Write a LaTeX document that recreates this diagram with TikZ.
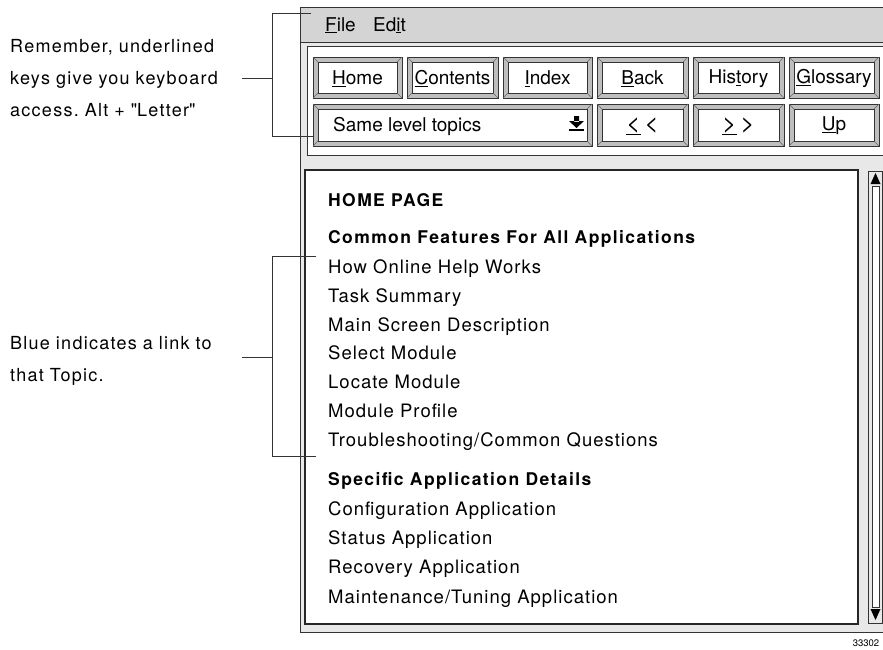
\documentclass[tikz,border=0pt]{standalone}
\usepackage{fontspec}
\setmainfont{TeX Gyre Heros}
\usetikzlibrary{positioning}
\frenchspacing

\definecolor{menugray}{RGB}{212,212,212}
\definecolor{wingray}{RGB}{232,232,232}
\definecolor{bevelgray}{RGB}{190,190,190}

\tikzset{
  note/.style={anchor=west, align=left, inner sep=0pt, text width=224pt,
    font=\fontsize{18}{32}\selectfont\addfontfeature{LetterSpace=7}},
  item/.style={anchor=base west, inner sep=0pt,
    font=\fontsize{18.5}{20}\selectfont\addfontfeature{LetterSpace=5.5}},
  head/.style={item, font=\fontsize{17.5}{20}\selectfont\bfseries\addfontfeature{LetterSpace=8}},
  btnlabel/.style={inner sep=0pt, font=\fontsize{19}{22}\selectfont},
  bracket/.style={line width=0.9pt, black!80},
  frame/.style={line width=1pt, black!80}
}

% name, x1, y1, x2, y2, label
\newcommand{\helpbutton}[6]{%
  \draw[frame, fill=bevelgray] (#2,#3) rectangle (#4,#5);
  \draw[line width=0.8pt, black!80, fill=white] (#2+5,#3+5) rectangle (#4-5,#5-5);
  \draw[black!60, line width=0.5pt] (#2,#3) -- (#2+5,#3+5) (#4,#3) -- (#4-5,#3+5)
    (#2,#5) -- (#2+5,#5-5) (#4,#5) -- (#4-5,#5-5);
  \node[btnlabel] (#1) at ({(#2+#4)/2},{(#3+#5)/2+1}) {#6};
}

\begin{document}
\begin{tikzpicture}[x=1pt, y=-1pt]
  \useasboundingbox (0,0) rectangle (883,649);
  \clip (0,0) rectangle (883,649);

  % window
  \draw[frame, fill=wingray] (300,7) rectangle (900,632);
  \draw[frame, fill=menugray] (300,7) rectangle (900,42);
  \node[btnlabel, anchor=base west] (file) at (325,31) {\underline{F}ile};
  \node[btnlabel, right=17pt of file.base east, anchor=base west] (edit) {Ed\underline{i}t};

  % toolbar panel
  \draw[frame, fill=white] (307,46) rectangle (900,155);
  \helpbutton{home}{313}{57}{402}{98}{\underline{H}ome}
  \helpbutton{contents}{407}{57}{498}{98}{\underline{C}ontents}
  \helpbutton{index}{503}{57}{592}{98}{\underline{I}ndex}
  \helpbutton{back}{597}{57}{688}{98}{\underline{B}ack}
  \helpbutton{history}{693}{57}{784}{98}{His\underline{t}ory}
  \helpbutton{glossary}{789}{57}{879}{98}{\underline{G}lossary}
  \helpbutton{same}{313}{104}{592}{146}{}
  \node[btnlabel, anchor=west] (sametxt) at (333,126) {Same level topics};
  \fill (574,116) rectangle (579,122) (569,121) -- (584,121) -- (576.5,128) -- cycle;
  \fill (569,129) rectangle (584,131);
  \helpbutton{prev}{597}{104}{688}{146}{\fontsize{24}{24}\selectfont\underline{<}\,<}
  \helpbutton{next}{693}{104}{784}{146}{\fontsize{24}{24}\selectfont\underline{>}\,>}
  \helpbutton{up}{789}{104}{879}{146}{\underline{U}p}

  % topic pane
  \draw[line width=1.3pt, black!85, fill=white] (305,170) rectangle (858,624);
  \draw[frame, fill=wingray] (868,171) rectangle (882,623);
  \draw[line width=0.8pt, black!80, fill=white] (872,186) rectangle (879,607);
  \fill (875.5,173) -- (880.5,184) -- (870.5,184) -- cycle;
  \fill (875.5,620) -- (880.5,609) -- (870.5,609) -- cycle;

  \node[head] (homepage) at (328,206) {HOME PAGE};
  \node[head] (common) at (328,243) {Common Features For All Applications};
  \foreach \nm/\yy/\txt in {howhelp/273/{How Online Help Works},
      tasks/302/{Task Summary},
      mainscreen/331/{Main Screen Description},
      selectmod/359/{Select Module},
      locatemod/388/{Locate Module},
      profile/417/{Module Profile},
      trouble/446/{Troubleshooting/Common Questions}}
    \node[item] (\nm) at (328,\yy) {\txt};
  \node[head] (specific) at (328,485) {Specific Application Details};
  \foreach \nm/\yy/\txt in {config/515/{Configuration Application},
      status/544/{Status Application},
      recovery/573/{Recovery Application},
      maint/603/{Maintenance/Tuning Application}}
    \node[item] (\nm) at (328,\yy) {\txt};

  % notes
  \node[note] (remember) at (10,78) {Remember, underlined\\keys give you keyboard\\access. Alt + \textquotedbl Letter\textquotedbl};
  \node[note] (blue) at (10,361) {Blue indicates a link to\\that Topic.};
  \coordinate (keybrk) at (272,78);
  \coordinate (linkbrk) at (272,357);
  \draw[bracket] (311,13) -- (272,13) -- (272,136) -- (313,136);
  \draw[bracket] (316,256) -- (272,256) -- (272,456) -- (316,456);
  \draw[bracket] (remember.east) ++(8,0) -- (keybrk);
  \draw[bracket] (blue.east |- linkbrk) ++(8,0) -- (linkbrk);

  \node[inner sep=0pt, font=\fontsize{9.5}{10}\selectfont] (fignum) at (866,643) {33302};
\end{tikzpicture}
\end{document}
